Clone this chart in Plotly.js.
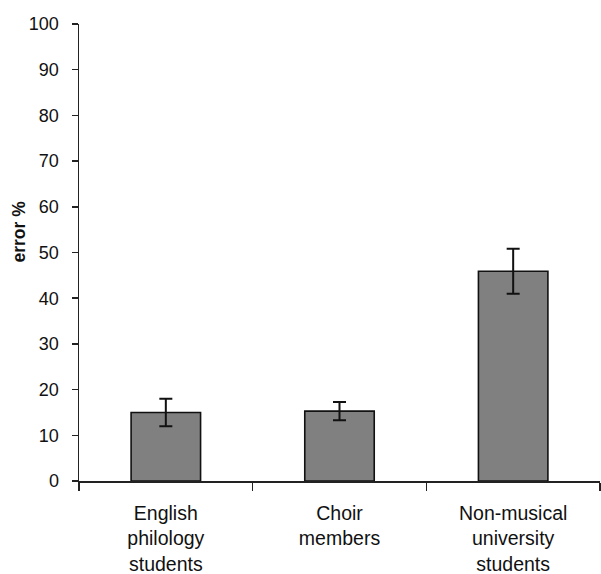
<!DOCTYPE html>
<html>
<head>
<meta charset="utf-8">
<script src="https://cdn.plot.ly/plotly-3.0.1.min.js"></script>
<style>html,body{margin:0;padding:0;background:#fff;}#chart{width:601px;height:574px;}</style>
</head>
<body>
<div id="chart"></div>
<script>
const categories = ["English<br>philology<br>students", "Choir<br>members", "Non-musical<br>university<br>students"];
const errorPct = [15.0, 15.3, 45.9];
const errorBar = [3.0, 2.0, 4.9];
const yTicks = [0, 10, 20, 30, 40, 50, 60, 70, 80, 90, 100];

const FONT = "Liberation Sans, Arial, Helvetica, sans-serif";

const trace = {
  type: "bar",
  x: categories,
  y: errorPct,
  width: 0.4,
  marker: {color: "#808080", line: {color: "#111", width: 1.6}},
  error_y: {type: "data", array: errorBar, visible: true, color: "#111", thickness: 2, width: 6.5}
};

const layout = {
  width: 601, height: 574,
  margin: {l: 79, r: 1, t: 24, b: 93},
  paper_bgcolor: "#fff", plot_bgcolor: "#fff",
  showlegend: false,
  font: {family: FONT, color: "#111"},
  xaxis: {
    type: "category",
    range: [-0.5, 2.5],
    showline: true, linecolor: "#222", linewidth: 1.5,
    ticks: "outside", tickson: "boundaries", ticklen: 8, tickwidth: 1.5, tickcolor: "#222",
    tickfont: {family: FONT, size: 19.5, color: "#111"},
    ticklabelstandoff: 14,
    showgrid: false, zeroline: false, fixedrange: true
  },
  yaxis: {
    range: [0, 100],
    tickvals: yTicks,
    showline: true, linecolor: "#222", linewidth: 1.5,
    ticks: "outside", ticklen: 6, tickwidth: 1.5, tickcolor: "#222",
    tickfont: {family: FONT, size: 18, color: "#111"},
    ticklabelstandoff: 9,
    showgrid: false, zeroline: false, fixedrange: true
  },
  annotations: [{
    text: "<b>error %</b>",
    xref: "paper", yref: "paper",
    x: -0.116, y: 0.545,
    xanchor: "center", yanchor: "middle",
    textangle: -90, showarrow: false,
    font: {family: FONT, size: 17.5, color: "#111"}
  }]
};

Plotly.newPlot("chart", [trace], layout, {displayModeBar: false, staticPlot: true});
</script>
</body>
</html>
